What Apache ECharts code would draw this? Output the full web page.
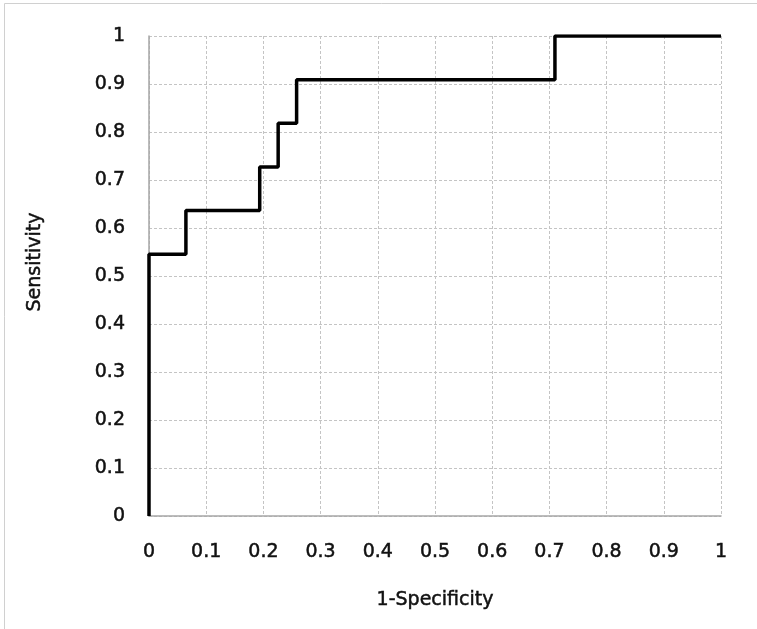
<!DOCTYPE html>
<html>
<head>
<meta charset="utf-8">
<script src="https://cdn.jsdelivr.net/npm/echarts@6/dist/echarts.min.js"></script>
<style>
html,body{margin:0;padding:0;background:#fff;}
#c{width:757px;height:629px;}
</style>
</head>
<body>
<div id="c"></div>
<script>
// ROC curve points (1-Specificity, Sensitivity); step occurs at each x
var fpr = [0, 0, 2/31, 6/31, 7/31, 8/31, 22/31, 1];
var tpr = [0, 6/11, 7/11, 8/11, 9/11, 10/11, 1, 1];
var xTicks = [0, 0.1, 0.2, 0.3, 0.4, 0.5, 0.6, 0.7, 0.8, 0.9, 1];
var yTicks = [0, 0.1, 0.2, 0.3, 0.4, 0.5, 0.6, 0.7, 0.8, 0.9, 1];
var xTitle = '1-Specificity';
var yTitle = 'Sensitivity';

var pts = fpr.map(function (x, i) { return [x, tpr[i]]; });
var fmt = function (v) { return String(Math.round(v * 10) / 10); };
var font = '"DejaVu Sans", sans-serif';
var txt = {fontFamily: font, fontSize: 19, color: '#111', textBorderColor: '#111', textBorderWidth: 0.5};

var chart = echarts.init(document.getElementById('c'), null, {renderer: 'canvas'});
chart.setOption({
  animation: false,
  backgroundColor: '#fff',
  graphic: [{
    type: 'rect', shape: {x: 4.5, y: 3.5, width: 760, height: 640},
    style: {fill: 'none', stroke: '#d0d0d0', lineWidth: 1}, silent: true
  }],
  grid: {left: 149, right: 36, top: 36, bottom: 113, containLabel: false},
  xAxis: {
    type: 'value', min: 0, max: 1, interval: 0.1,
    name: xTitle, nameLocation: 'middle', nameGap: 75,
    nameTextStyle: Object.assign({}, txt),
    axisLine: {show: true, lineStyle: {color: '#a6a6a6', width: 1.5}},
    axisTick: {show: false},
    axisLabel: Object.assign({margin: 27, formatter: fmt}, txt),
    splitLine: {show: true, lineStyle: {color: '#c4c4c4', type: [3, 2], width: 1}}
  },
  yAxis: {
    type: 'value', min: 0, max: 1, interval: 0.1,
    name: yTitle, nameLocation: 'middle', nameGap: 104, nameRotate: 90,
    nameTextStyle: Object.assign({padding: [0, 0, 0, 28]}, txt),
    axisLine: {show: true, lineStyle: {color: '#a6a6a6', width: 1.5}},
    axisTick: {show: false},
    axisLabel: Object.assign({margin: 24, formatter: fmt}, txt),
    splitLine: {show: true, lineStyle: {color: '#c4c4c4', type: [3, 2], width: 1}}
  },
  series: [{
    type: 'line', step: 'end', data: pts, symbol: 'none',
    lineStyle: {color: '#000', width: 3.5}, z: 5
  }]
});
</script>
</body>
</html>
